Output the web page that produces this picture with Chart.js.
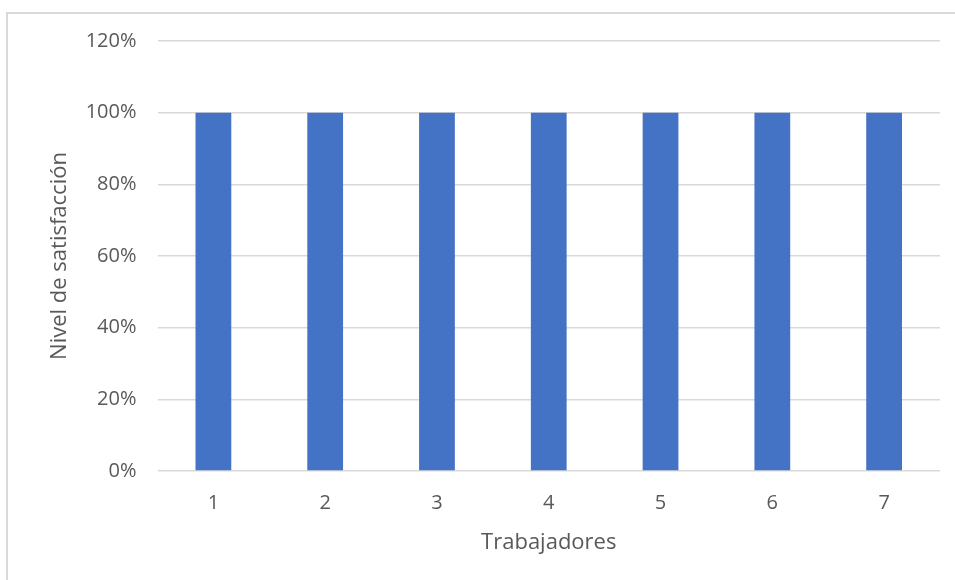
<!DOCTYPE html>
<html>
<head>
<meta charset="utf-8">
<script src="https://cdn.jsdelivr.net/npm/chart.js@4"></script>
<style>
    html, body { margin: 0; padding: 0; background: #fff; overflow: hidden; }
    #wrap { position: relative; width: 955px; height: 580px; }
    #frame { position: absolute; left: 6px; top: 12px; width: 1000px; height: 700px; border: 2px solid #d9d9d9; box-sizing: border-box; }
    #chart { position: absolute; left: 0; top: 0; }
</style>
</head>
<body>
<div id="wrap">
    <div id="frame"></div>
    <canvas id="chart" width="955" height="580"></canvas>
</div>
<script>
var categories = ['1', '2', '3', '4', '5', '6', '7'];
var satisfaction = [100, 100, 100, 100, 100, 100, 100];
var yTicks = [0, 20, 40, 60, 80, 100, 120];

var textColor = '#595959';
var fontFamily = "'Open Sans', 'Noto Sans', sans-serif";

var config = {
    type: 'bar',
    data: {
        labels: categories,
        datasets: [{
            label: 'Nivel de satisfacción',
            data: satisfaction,
            backgroundColor: '#4472C4',
            borderWidth: 0,
            barPercentage: 0.32,
            categoryPercentage: 1
        }]
    },
    options: {
        responsive: false,
        devicePixelRatio: 1,
        animation: false,
        layout: {padding: {top: 41, right: 15, bottom: 0, left: 0}},
        plugins: {legend: {display: false}, tooltip: {enabled: false}},
        scales: {
            x: {
                grid: {display: false, drawTicks: false},
                border: {display: false},
                ticks: {color: textColor, font: {family: fontFamily, size: 20}, padding: 20},
                title: {display: true, text: 'Trabajadores', color: textColor, font: {family: fontFamily, size: 22}, padding: {top: 0, bottom: 24}},
                afterFit: function (scale) { scale.height = 109; }
            },
            y: {
                min: 0,
                max: yTicks[yTicks.length - 1],
                grid: {color: '#d9d9d9', lineWidth: 1.5, drawTicks: false},
                border: {display: false},
                ticks: {
                    stepSize: yTicks[1] - yTicks[0],
                    color: textColor,
                    font: {family: fontFamily, size: 20},
                    padding: 21,
                    callback: function (v) { return v + '%'; }
                },
                title: {display: true, text: 'Nivel de satisfacción', color: textColor, font: {family: fontFamily, size: 22}, padding: {top: 47, bottom: 0}},
                afterFit: function (scale) { scale.width = 157.5; }
            }
        }
    }
};

var ctx = document.getElementById('chart').getContext('2d');
var myBar = new Chart(ctx, config);
</script>
</body>
</html>
